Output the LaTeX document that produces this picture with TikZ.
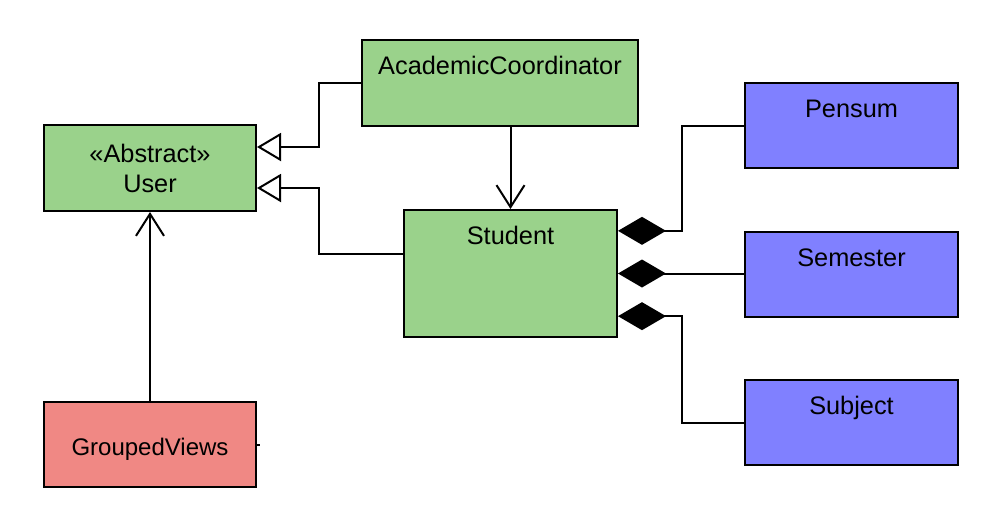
\documentclass[tikz,border=0pt]{standalone}
\usepackage{fontspec}
\setmainfont{Liberation Sans}
\usetikzlibrary{arrows.meta}

\definecolor{clsgreen}{RGB}{154,210,139}
\definecolor{clsblue}{RGB}{128,128,255}
\definecolor{clsred}{RGB}{240,136,132}

\begin{document}
\begin{tikzpicture}[x=0.75pt, y=-0.75pt, line width=1.5pt,
    every node/.style={font=\fontsize{19}{22.5}\selectfont},
    box/.style={draw, line width=1.5pt, inner xsep=0pt, align=center},
    titled/.style={inner ysep=0pt, text height=26pt, text depth=#1},
    gen/.style={-{Triangle[open, length=18pt, width=21pt]}},
    assoc/.style={-{Straight Barb[length=16.5pt, width=21pt]}},
    comp/.style={{Diamond[length=36pt, width=21pt]}-}]
    \useasboundingbox (0,0) rectangle (1004,508);

    % Classes
    \node[box, fill=clsgreen, minimum width=159pt, minimum height=64.5pt] (user) at (150,168) {«Abstract»\\User};
    \node[box, titled=38.5pt, fill=clsgreen, minimum width=207pt, minimum height=64.5pt] (coord) at (500,83) {AcademicCoordinator};
    \node[box, titled=69.25pt, fill=clsgreen, minimum width=159.75pt, minimum height=95.25pt] (student) at (510.5,273.5) {Student};
    \node[box, inner ysep=0pt, text height=39.75pt, text depth=24pt, fill=clsred, minimum width=159pt, minimum height=63.75pt,
        font=\fontsize{18}{22}\selectfont] (views) at (150,444.5) {GroupedViews};

    % Parts of Student
    \foreach \n/\y/\t in {pensum/125.5/Pensum, semester/274.5/Semester, subject/422.5/Subject} {
        \node[box, titled=37.75pt, fill=clsblue, minimum width=159.75pt, minimum height=63.75pt] (\n) at (851.5,\y) {\t};
    }

    % Inheritance
    \draw[gen] (coord.west) -- ++(-42,0) |- ([yshift=15.75pt]user.east);
    \draw[gen] ([yshift=15pt]student.west) -- ++(-84,0) |- ([yshift=-15pt]user.east);
    \draw[gen, -{Straight Barb[length=16.5pt, width=21pt]}] (views.north) -- (user.south);

    % Association
    \draw[assoc] (coord.south -| student.north) -- (student.north);

    % Composition
    \draw[comp] ([yshift=32pt]student.east) -- ++(64,0) |- (pensum.west);
    \draw[comp] (student.east) -- (student.east -| semester.west);
    \draw[comp] ([yshift=-32pt]student.east) -- ++(64,0) |- (subject.west);

    \draw (views.east) -- ++(3,0);
\end{tikzpicture}
\end{document}
